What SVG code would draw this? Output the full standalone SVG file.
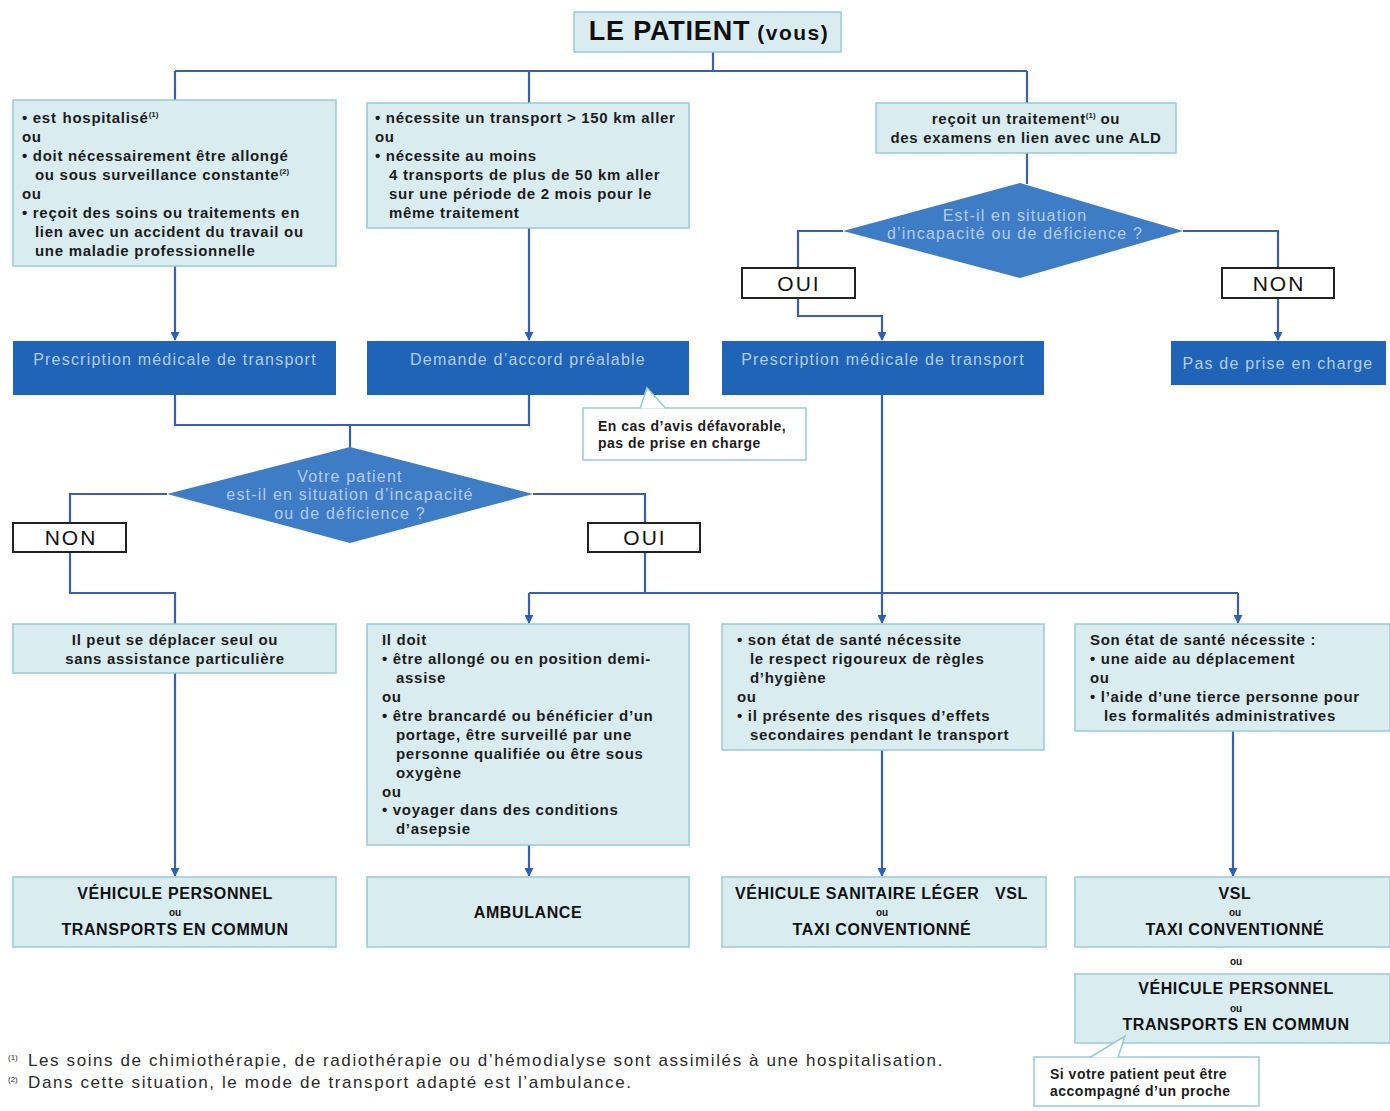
<svg xmlns="http://www.w3.org/2000/svg" width="1390" height="1111" viewBox="0 0 1390 1111">
<defs>
<marker id="arr" viewBox="0 0 10 10" refX="9" refY="5" markerWidth="9" markerHeight="9" markerUnits="userSpaceOnUse" orient="auto">
<path d="M0,0 L10,5 L0,10 z" fill="#2f5fae"/>
</marker>
<style>
.lt{fill:#d9edf1;stroke:#97cbd3;stroke-width:1.5}
.dk{fill:#1f64b6;stroke:none}
.dm{fill:#3e7cc6;stroke:none}
.lbl{fill:#ffffff;stroke:#222;stroke-width:2}
.con{fill:none;stroke:#3a5fae;stroke-width:2.2}
.t{font-family:"Liberation Sans",Arial,sans-serif;font-size:15px;fill:#1c1c1c;font-weight:bold;letter-spacing:0.7px}
.tc{font-family:"Liberation Sans",Arial,sans-serif;font-size:15px;fill:#1c1c1c;font-weight:bold;text-anchor:middle;letter-spacing:0.7px}
.tw{font-family:"Liberation Sans",Arial,sans-serif;font-size:16px;fill:#b3cdf0;text-anchor:middle;letter-spacing:1.2px}
.tb{font-family:"Liberation Sans",Arial,sans-serif;font-size:16px;fill:#111;font-weight:bold;text-anchor:middle;letter-spacing:0.6px}
.tbs{font-family:"Liberation Sans",Arial,sans-serif;font-size:16px;fill:#111;font-weight:bold;text-anchor:start;letter-spacing:0.6px}
.ou{font-family:"Liberation Sans",Arial,sans-serif;font-size:10px;fill:#111;font-weight:bold;text-anchor:middle}
.yn{font-family:"Liberation Sans",Arial,sans-serif;font-size:21px;fill:#111;text-anchor:middle;letter-spacing:2px}
.fn{font-family:"Liberation Sans",Arial,sans-serif;font-size:17px;fill:#2a2a2a;letter-spacing:1.6px}
.co{font-family:"Liberation Sans",Arial,sans-serif;font-size:14px;fill:#1c1c1c;font-weight:bold;letter-spacing:0.5px}
.sup{font-size:8px;letter-spacing:0}
</style>
</defs>
<rect width="1390" height="1111" fill="#ffffff"/>

<g id="connectors">
<path class="con" d="M713,52 V71 M175,71 H1027 M175,71 V100 M529,71 V103 M1027,71 V103"/>
<path class="con" d="M1027,153 V184"/>
<path class="con" d="M843,231 H798 V268"/>
<path class="con" d="M1183,231 H1278 V268"/>
<path class="con" d="M798,298 V316 H882 V340" marker-end="url(#arr)"/>
<path class="con" d="M1278,298 V340" marker-end="url(#arr)"/>
<path class="con" d="M175,266 V340" marker-end="url(#arr)"/>
<path class="con" d="M529,228 V340" marker-end="url(#arr)"/>
<path class="con" d="M175,395 V425 H529 V395 M350,425 V448"/>
<path class="con" d="M167,494 H70 V523"/>
<path class="con" d="M533,494 H645 V523"/>
<path class="con" d="M70,552 V593 H175 V624"/>
<path class="con" d="M645,552 V593 M529,593 H1238"/>
<path class="con" d="M529,593 V623" marker-end="url(#arr)"/>
<path class="con" d="M882,395 V623" marker-end="url(#arr)"/>
<path class="con" d="M1238,593 V623" marker-end="url(#arr)"/>
<path class="con" d="M175,673 V876" marker-end="url(#arr)"/>
<path class="con" d="M529,845 V876" marker-end="url(#arr)"/>
<path class="con" d="M882,750 V876" marker-end="url(#arr)"/>
<path class="con" d="M1233,731 V876" marker-end="url(#arr)"/>
</g>

<g id="patient">
<rect class="lt" x="574" y="12" width="267" height="40"/>
<text x="709" y="40" text-anchor="middle" font-family="Liberation Sans, Arial, sans-serif" font-weight="bold" fill="#111"><tspan font-size="27" letter-spacing="0.8">LE PATIENT</tspan><tspan font-size="21" letter-spacing="1.5" dx="7">(vous)</tspan></text>
</g>

<g id="box-hospitalise">
<rect class="lt" x="13" y="100" width="323" height="166"/>
<text class="t" x="22" y="123">• est<tspan dx="6">hospitalisé</tspan><tspan class="sup" dy="-6">(1)</tspan></text>
<text class="t" x="22" y="142">ou</text>
<text class="t" x="22" y="161">• doit nécessairement être allongé</text>
<text class="t" x="35" y="180">ou sous surveillance constante<tspan class="sup" dy="-6">(2)</tspan></text>
<text class="t" x="22" y="199">ou</text>
<text class="t" x="22" y="218">• reçoit des soins ou traitements en</text>
<text class="t" x="35" y="237">lien avec un accident du travail ou</text>
<text class="t" x="35" y="256">une maladie professionnelle</text>
</g>

<g id="box-distance">
<rect class="lt" x="367" y="103" width="322" height="125"/>
<text class="t" x="375" y="123">• nécessite un transport &gt; 150 km aller</text>
<text class="t" x="375" y="142">ou</text>
<text class="t" x="375" y="161">• nécessite au moins</text>
<text class="t" x="389" y="180">4 transports de plus de 50 km aller</text>
<text class="t" x="389" y="199">sur une période de 2 mois pour le</text>
<text class="t" x="389" y="218">même traitement</text>
</g>

<g id="box-ald">
<rect class="lt" x="876" y="103" width="300" height="50"/>
<text class="tc" x="1026" y="124">reçoit un traitement<tspan class="sup" dy="-6">(1)</tspan><tspan dy="6"> ou</tspan></text>
<text class="tc" x="1026" y="143">des examens en lien avec une ALD</text>
</g>

<g id="diamond-ald">
<polygon class="dm" points="1020,183 1183,231 1020,278 843,231"/>
<text class="tw" x="1015" y="221">Est-il en situation</text>
<text class="tw" x="1015" y="239">d’incapacité ou de déficience ?</text>
</g>

<g id="oui-ald">
<rect class="lbl" x="742" y="268" width="113" height="30"/>
<text class="yn" x="799" y="291">OUI</text>
</g>

<g id="non-ald">
<rect class="lbl" x="1222" y="268" width="112" height="30"/>
<text class="yn" x="1279" y="291">NON</text>
</g>

<g id="prescription-1">
<rect class="dk" x="13" y="341" width="323" height="54"/>
<text class="tw" x="175" y="365">Prescription médicale de transport</text>
</g>

<g id="demande-accord">
<rect class="dk" x="367" y="341" width="322" height="54"/>
<text class="tw" x="528" y="365">Demande d’accord préalable</text>
</g>

<g id="prescription-3">
<rect class="dk" x="722" y="341" width="322" height="54"/>
<text class="tw" x="883" y="365">Prescription médicale de transport</text>
</g>

<g id="pas-prise">
<rect class="dk" x="1171" y="341" width="215" height="44"/>
<text class="tw" x="1278" y="369">Pas de prise en charge</text>
</g>

<g id="callout-defavorable">
<rect x="583" y="408" width="223" height="52" fill="#ffffff" stroke="#97cbd3" stroke-width="1.5"/>
<path d="M640,408.5 L647,388 L666,408.5" fill="#ffffff" stroke="#97cbd3" stroke-width="1.5"/>
<text class="co" x="598" y="431">En cas d’avis défavorable,</text>
<text class="co" x="598" y="448">pas de prise en charge</text>
</g>

<g id="diamond-patient">
<polygon class="dm" points="350,447 533,494 350,543 167,494"/>
<text class="tw" x="350" y="482">Votre patient</text>
<text class="tw" x="350" y="500">est-il en situation d’incapacité</text>
<text class="tw" x="350" y="519">ou de déficience ?</text>
</g>

<g id="non-patient">
<rect class="lbl" x="13" y="523" width="113" height="29"/>
<text class="yn" x="71" y="545">NON</text>
</g>

<g id="oui-patient">
<rect class="lbl" x="588" y="523" width="112" height="29"/>
<text class="yn" x="645" y="545">OUI</text>
</g>

<g id="box-seul">
<rect class="lt" x="13" y="624" width="323" height="49"/>
<text class="tc" x="175" y="645">Il peut se déplacer seul ou</text>
<text class="tc" x="175" y="664">sans assistance particulière</text>
</g>

<g id="box-allonge">
<rect class="lt" x="367" y="624" width="322" height="221"/>
<text class="t" x="382" y="645">Il doit</text>
<text class="t" x="382" y="664">• être allongé ou en position demi-</text>
<text class="t" x="396" y="683">assise</text>
<text class="t" x="382" y="702">ou</text>
<text class="t" x="382" y="721">• être brancardé ou bénéficier d’un</text>
<text class="t" x="396" y="740">portage, être surveillé par une</text>
<text class="t" x="396" y="759">personne qualifiée ou être sous</text>
<text class="t" x="396" y="778">oxygène</text>
<text class="t" x="382" y="797">ou</text>
<text class="t" x="382" y="815">• voyager dans des conditions</text>
<text class="t" x="396" y="834">d’asepsie</text>
</g>

<g id="box-hygiene">
<rect class="lt" x="722" y="624" width="322" height="126"/>
<text class="t" x="737" y="645">• son état de santé nécessite</text>
<text class="t" x="750" y="664">le respect rigoureux de règles</text>
<text class="t" x="750" y="683">d’hygiène</text>
<text class="t" x="737" y="702">ou</text>
<text class="t" x="737" y="721">• il présente des risques d’effets</text>
<text class="t" x="750" y="740">secondaires pendant le transport</text>
</g>

<g id="box-aide">
<rect class="lt" x="1075" y="624" width="315" height="107"/>
<text class="t" x="1090" y="645">Son état de santé nécessite :</text>
<text class="t" x="1090" y="664">• une aide au déplacement</text>
<text class="t" x="1090" y="683">ou</text>
<text class="t" x="1090" y="702">• l’aide d’une tierce personne pour</text>
<text class="t" x="1104" y="721">les formalités administratives</text>
</g>

<g id="final-personnel">
<rect class="lt" x="13" y="877" width="323" height="70"/>
<text class="tb" x="175" y="899">VÉHICULE PERSONNEL</text>
<text class="ou" x="175" y="916">ou</text>
<text class="tb" x="175" y="935">TRANSPORTS EN COMMUN</text>
</g>

<g id="final-ambulance">
<rect class="lt" x="367" y="877" width="322" height="70"/>
<text class="tb" x="528" y="918">AMBULANCE</text>
</g>

<g id="final-vsl">
<rect class="lt" x="722" y="877" width="324" height="70"/>
<text class="tbs" x="735" y="899">VÉHICULE SANITAIRE LÉGER<tspan dx="16">VSL</tspan></text>
<text class="ou" x="882" y="916">ou</text>
<text class="tb" x="882" y="935">TAXI CONVENTIONNÉ</text>
</g>

<g id="final-vsl-taxi">
<rect class="lt" x="1075" y="877" width="315" height="70"/>
<text class="tb" x="1235" y="899">VSL</text>
<text class="ou" x="1235" y="916">ou</text>
<text class="tb" x="1235" y="935">TAXI CONVENTIONNÉ</text>
</g>

<g id="ou-between">
<text class="ou" x="1236" y="965">ou</text>
</g>

<g id="final-personnel-2">
<rect class="lt" x="1075" y="974" width="315" height="69"/>
<text class="tb" x="1236" y="994">VÉHICULE PERSONNEL</text>
<text class="ou" x="1236" y="1012">ou</text>
<text class="tb" x="1236" y="1030">TRANSPORTS EN COMMUN</text>
</g>

<g id="callout-proche">
<rect x="1034" y="1057" width="225" height="49" fill="#ffffff" stroke="#97cbd3" stroke-width="1.5"/>
<path d="M1090,1057.5 L1125,1036 L1118,1057.5" fill="#ffffff" stroke="#97cbd3" stroke-width="1.5"/>
<text class="co" x="1050" y="1079" letter-spacing="0.7">Si votre patient peut être</text>
<text class="co" x="1050" y="1096" letter-spacing="0.7">accompagné d’un proche</text>
</g>

<g id="footnotes">
<text class="fn" x="8" y="1066"><tspan class="sup" dy="-6">(1)</tspan><tspan x="28" dy="6">Les soins de chimiothérapie, de radiothérapie ou d’hémodialyse sont assimilés à une hospitalisation.</tspan></text>
<text class="fn" x="8" y="1088"><tspan class="sup" dy="-6">(2)</tspan><tspan x="28" dy="6">Dans cette situation, le mode de transport adapté est l’ambulance.</tspan></text>
</g>
</svg>
